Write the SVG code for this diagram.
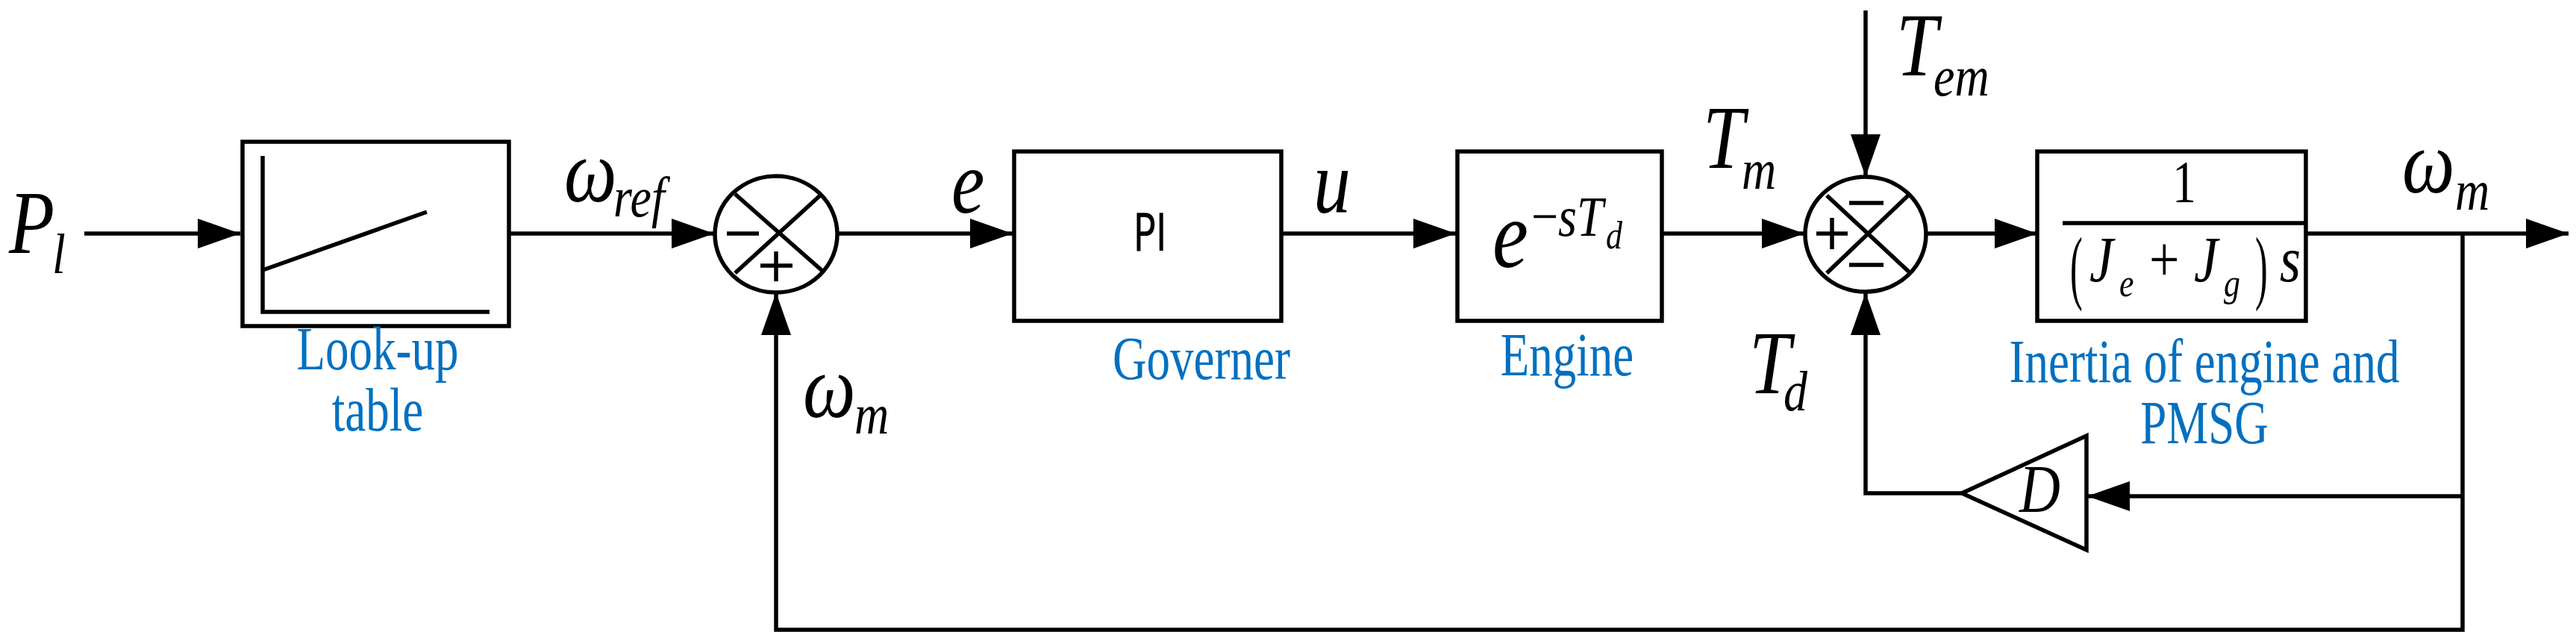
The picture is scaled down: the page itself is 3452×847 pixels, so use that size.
<svg xmlns="http://www.w3.org/2000/svg" width="3452" height="847" viewBox="0 0 3452 847">
<style>
.l{fill:none;stroke:#000;stroke-width:5.5}
.m{font-family:"Liberation Serif",serif;font-style:italic;fill:#000}
.b{font-family:"Liberation Serif",serif;fill:#0070C0;font-size:63px;text-anchor:middle}
</style>
<defs><marker id="a" markerUnits="userSpaceOnUse" markerWidth="60" markerHeight="40" refX="57" refY="20" orient="auto"><path d="M0,0 L57,20 L0,40 Z"/></marker></defs>
<rect width="3452" height="847" fill="#fff"/>
<g id="connectors" class="l">
<path d="M113,313 H322" marker-end="url(#a)"/>
<path d="M682,313 H957" marker-end="url(#a)"/>
<path d="M1122,313 H1357" marker-end="url(#a)"/>
<path d="M1717,313 H1951" marker-end="url(#a)"/>
<path d="M2227,313 H2418" marker-end="url(#a)"/>
<path d="M2500,14 V237" marker-end="url(#a)"/>
<path d="M2581,313 H2730" marker-end="url(#a)"/>
<path d="M3090,313 H3442" marker-end="url(#a)"/>
<path d="M3300,313 V844 H1040 V392" marker-end="url(#a)"/>
<path d="M3300,665 H2797" marker-end="url(#a)"/>
<path d="M2629,661 H2500 V392" marker-end="url(#a)"/>
</g>
<g id="lookup">
<rect class="l" x="325" y="190" width="357" height="247"/>
<path class="l" d="M352,209 V418 H656 M352,362 L572,284"/>
<text class="b" x="506" y="495" transform="translate(0 495) scale(1 1.3) translate(0 -495)">Look-up</text>
<text class="b" x="506" y="577" transform="translate(0 577) scale(1 1.3) translate(0 -577)">table</text>
</g>
<g id="sum1">
<ellipse class="l" cx="1040" cy="314" rx="82" ry="78"/>
<path class="l" d="M985,260 L1102,363 M1099,262 L985,366 M974,313 H1017 M1019,356 H1062 M1040,337 V377"/>
</g>
<g id="pi">
<rect class="l" x="1359" y="203" width="358" height="227"/>
<text x="1541" y="336" font-family="'DejaVu Sans Condensed','DejaVu Sans',sans-serif" font-size="56" text-anchor="middle" transform="translate(0 336) scale(1 1.25) translate(0 -336)">PI</text>
<text class="b" x="1610" y="508" transform="translate(0 508) scale(1 1.3) translate(0 -508)">Governer</text>
</g>
<g id="engine">
<rect class="l" x="1953" y="203" width="274" height="227"/>
<text class="m" x="2000" y="358" font-size="108" transform="translate(0 358) scale(1 1.2) translate(0 -358)">e</text>
<text class="m" x="2052" y="316" font-size="64" transform="translate(0 316) scale(1 1.2) translate(0 -316)"><tspan font-style="normal">−</tspan>s<tspan>T</tspan></text>
<text class="m" x="2152" y="333" font-size="44" transform="translate(0 333) scale(1 1.2) translate(0 -333)">d</text>
<text class="b" x="2100" y="503" transform="translate(0 503) scale(1 1.3) translate(0 -503)">Engine</text>
</g>
<g id="sum2">
<ellipse class="l" cx="2500" cy="314" rx="81" ry="77"/>
<path class="l" d="M2448,262 L2560,366 M2557,262 L2448,366 M2478,272 H2524 M2478,355 H2524 M2434,313 H2476 M2455,292 V334"/>
</g>
<g id="inertia">
<rect class="l" x="2730" y="203" width="360" height="227"/>
<path class="l" d="M2764,299 H3088"/>
<text x="2927" y="271" font-family="'Liberation Serif',serif" font-size="64" text-anchor="middle" transform="translate(0 271) scale(1 1.25) translate(0 -271)">1</text>
<text x="2774" y="394" font-family="'Liberation Serif',serif" font-size="84" transform="translate(2774 394) scale(0.6 1.3) translate(-2774 -394)">(</text>
<text class="m" x="2800" y="377" font-size="72" transform="translate(0 377) scale(1 1.2) translate(0 -377)">J</text>
<text class="m" x="2840" y="397" font-size="44" transform="translate(0 397) scale(1 1.2) translate(0 -397)">e</text>
<text x="2880" y="377" font-family="'Liberation Serif',serif" font-size="72" transform="translate(0 377) scale(1 1.2) translate(0 -377)">+</text>
<text class="m" x="2940" y="377" font-size="72" transform="translate(0 377) scale(1 1.2) translate(0 -377)">J</text>
<text class="m" x="2980" y="397" font-size="44" transform="translate(0 397) scale(1 1.2) translate(0 -397)">g</text>
<text x="3022" y="394" font-family="'Liberation Serif',serif" font-size="84" transform="translate(3022 394) scale(0.6 1.3) translate(-3022 -394)">)</text>
<text class="m" x="3055" y="377" font-size="72" transform="translate(0 377) scale(1 1.2) translate(0 -377)">s</text>
<text class="b" x="2954" y="512" transform="translate(0 512) scale(1 1.3) translate(0 -512)">Inertia of engine and</text>
<text class="b" x="2954" y="594" transform="translate(0 594) scale(1 1.3) translate(0 -594)">PMSG</text>
</g>
<g id="gainD">
<path class="l" d="M2796,584 V737 L2629,661 Z"/>
<text class="m" x="2706" y="686" font-size="76" transform="translate(0 686) scale(1 1.2) translate(0 -686)">D</text>
</g>
<g id="labels">
<text class="m" x="12" y="339" font-size="100" transform="translate(0 339) scale(1 1.2) translate(0 -339)">P</text>
<text class="m" x="70" y="366" font-size="64" transform="translate(0 366) scale(1 1.2) translate(0 -366)">l</text>
<text class="m" x="756" y="270" font-size="100" transform="translate(0 270) scale(1 1.2) translate(0 -270)">ω</text>
<text class="m" x="822" y="290" font-size="64" transform="translate(0 290) scale(1 1.2) translate(0 -290)">ref</text>
<text class="m" x="1076" y="559" font-size="100" transform="translate(0 559) scale(1 1.2) translate(0 -559)">ω</text>
<text class="m" x="1145" y="581" font-size="64" transform="translate(0 581) scale(1 1.2) translate(0 -581)">m</text>
<text class="m" x="1275" y="285" font-size="100" transform="translate(0 285) scale(1 1.2) translate(0 -285)">e</text>
<text class="m" x="1760" y="285" font-size="100" transform="translate(0 285) scale(1 1.2) translate(0 -285)">u</text>
<text class="m" x="2282" y="225" font-size="100" transform="translate(0 225) scale(1 1.2) translate(0 -225)">T</text>
<text class="m" x="2334" y="253" font-size="64" transform="translate(0 253) scale(1 1.2) translate(0 -253)">m</text>
<text class="m" x="2541" y="101" font-size="100" transform="translate(0 101) scale(1 1.2) translate(0 -101)">T</text>
<text class="m" x="2591" y="128" font-size="64" transform="translate(0 128) scale(1 1.2) translate(0 -128)">em</text>
<text class="m" x="2344" y="527" font-size="100" transform="translate(0 527) scale(1 1.2) translate(0 -527)">T</text>
<text class="m" x="2390" y="550" font-size="64" transform="translate(0 550) scale(1 1.2) translate(0 -550)">d</text>
<text class="m" x="3219" y="258" font-size="100" transform="translate(0 258) scale(1 1.2) translate(0 -258)">ω</text>
<text class="m" x="3290" y="281" font-size="64" transform="translate(0 281) scale(1 1.2) translate(0 -281)">m</text>
</g>
</svg>
